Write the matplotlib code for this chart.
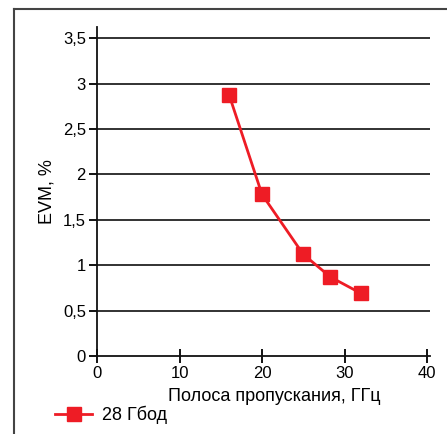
import matplotlib
matplotlib.use("Agg")
import matplotlib.pyplot as plt
from matplotlib.lines import Line2D

bandwidth = [16, 20, 25, 28.3, 32]
evm = [2.88, 1.78, 1.12, 0.87, 0.69]
series_label = "28 Гбод"
xticks = [0, 10, 20, 30, 40]
yticks = [0, 0.5, 1, 1.5, 2, 2.5, 3, 3.5]
ytick_labels = ["0", "0,5", "1", "1,5", "2", "2,5", "3", "3,5"]

plt.rcParams['font.family'] = ['Liberation Sans', 'DejaVu Sans']
red = '#EE1C25'

fig = plt.figure(figsize=(4.47, 4.34), dpi=100)
ax = fig.add_axes([97/447, 1-356/434, (430-97)/447, (356-27)/434])

ax.set_xlim(0, 40*(430-97)/(427-97))
ax.set_ylim(0, 3.5*(356-27)/(356-38.3))
for y in yticks[1:]:
    ax.axhline(y, color='#222222', lw=1.3, zorder=1)
ax.plot(bandwidth, evm, color=red, lw=2.0, marker='s', markersize=10,
        markerfacecolor=red, markeredgecolor=red, zorder=3)

ax.set_xticks(xticks)
ax.set_yticks(yticks)
ax.set_yticklabels(ytick_labels)
ax.tick_params(axis='x', direction='inout', length=10, width=1.3, labelsize=12, pad=2)
ax.tick_params(axis='y', direction='out', length=6, width=1.3, labelsize=12, pad=2)
for s in ['top', 'right']:
    ax.spines[s].set_visible(False)
for s in ['left', 'bottom']:
    ax.spines[s].set_linewidth(1.3)
    ax.spines[s].set_color('#111111')

ax.set_xlabel("Полоса пропускания, ГГц", fontsize=13, labelpad=3)
ax.xaxis.set_label_coords((274-97)/333, -0.097)
ax.xaxis.label.set_verticalalignment('top')
ax.set_ylabel("EVM, %", fontsize=13, labelpad=5)

handle = Line2D([], [], color=red, lw=2.0, marker='s', markersize=10,
                markerfacecolor=red, markeredgecolor=red)
fig.legend([handle], [series_label], loc='center left',
           bbox_to_anchor=(55/447, 1-415/434), frameon=False, fontsize=13,
           handlelength=2.05, handletextpad=0.55, borderpad=0, borderaxespad=0)

# outer frame (top and left edges)
fig.add_artist(Line2D([14/447, 1], [1-9/434, 1-9/434], transform=fig.transFigure,
                      color='#444444', lw=1.5))
fig.add_artist(Line2D([14/447, 14/447], [0, 1-9/434], transform=fig.transFigure,
                      color='#444444', lw=1.5))

fig.savefig("out.png", dpi=100)
